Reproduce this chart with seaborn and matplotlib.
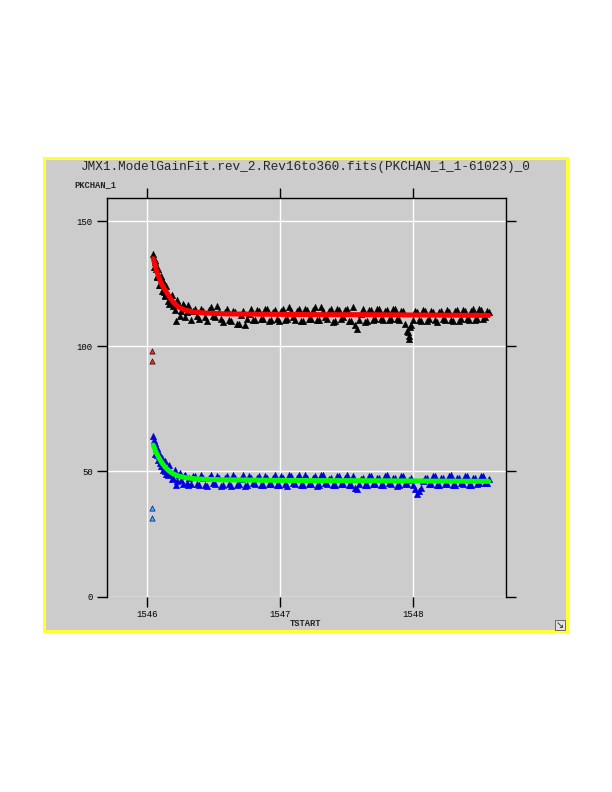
import matplotlib
matplotlib.use("Agg")
import matplotlib.pyplot as plt
from matplotlib.patches import Rectangle
import pandas as pd
import seaborn as sns

# ── Data ─────────────────────────────────────────────────────────────────────
TSTART = [1546.05, 1546.06, 1546.07, 1546.08, 1546.09, 1546.10, 1546.11, 1546.12, 1546.13, 1546.14,
          1546.15, 1546.16, 1546.18, 1546.20, 1546.22, 1546.24, 1546.26, 1546.28, 1546.30, 1546.32,
          1546.35, 1546.38, 1546.41, 1546.44, 1546.47, 1546.50, 1546.53, 1546.56, 1546.59, 1546.62,
          1546.65, 1546.68, 1546.71, 1546.74, 1546.77, 1546.80, 1546.83, 1546.86, 1546.89, 1546.92,
          1546.95, 1546.98, 1547.01, 1547.04, 1547.07, 1547.10, 1547.13, 1547.16, 1547.19, 1547.22,
          1547.25, 1547.28, 1547.31, 1547.34, 1547.37, 1547.40, 1547.43, 1547.46, 1547.49, 1547.52,
          1547.55, 1547.58, 1547.61, 1547.64, 1547.67, 1547.70, 1547.73, 1547.76, 1547.79, 1547.82,
          1547.85, 1547.88, 1547.91, 1547.94, 1547.97, 1548.00, 1548.03, 1548.06, 1548.09, 1548.12,
          1548.15, 1548.18, 1548.21, 1548.24, 1548.27, 1548.30, 1548.33, 1548.36, 1548.39, 1548.42,
          1548.45, 1548.48, 1548.51, 1548.54, 1548.57]

PK_UPPER = [137.0, 133.5, 131.0, 128.0, 127.5, 124.5, 125.5, 122.0, 121.5, 120.0,
            120.5, 118.0, 117.5, 116.0, 110.0, 116.5, 114.0, 116.0, 113.5, 114.5,
            114.0, 112.0, 115.0, 111.5, 114.5, 112.0, 116.0, 111.0, 113.5, 110.5,
            114.0, 109.0, 112.5, 108.5, 113.0, 110.5, 114.5, 111.0, 115.0, 110.0,
            113.5, 111.0, 114.0, 110.5, 115.5, 111.5, 114.0, 110.0, 115.0, 111.0,
            114.5, 110.5, 115.5, 111.5, 114.0, 109.5, 115.0, 111.0, 114.5, 110.0,
            115.5, 107.0, 113.0, 109.5, 114.5, 110.5, 115.0, 111.0, 114.0, 110.5,
            115.0, 111.0, 114.0, 109.0, 103.0, 110.5, 113.5, 110.0, 114.0, 111.0,
            113.5, 109.5, 114.0, 110.5, 113.5, 110.0, 114.5, 111.0, 114.0, 110.5,
            115.0, 111.0, 114.5, 111.5, 113.5]

PK_LOWER = [64.0, 61.5, 59.0, 56.5, 56.0, 53.5, 54.0, 52.0, 51.5, 50.0,
            50.5, 48.5, 49.0, 47.5, 44.5, 48.5, 46.5, 48.0, 45.5, 47.5,
            48.0, 45.0, 48.5, 44.5, 47.5, 45.5, 48.0, 44.0, 47.5, 45.0,
            48.5, 44.5, 47.0, 44.0, 48.0, 45.5, 47.5, 44.5, 48.0, 45.0,
            47.5, 44.5, 48.0, 45.0, 48.5, 45.5, 47.5, 44.5, 48.5, 45.0,
            47.5, 44.0, 48.5, 45.5, 47.0, 44.5, 48.0, 45.0, 47.5, 44.5,
            48.0, 43.0, 47.0, 44.5, 48.0, 45.0, 47.5, 44.5, 48.0, 45.5,
            47.5, 44.0, 48.0, 45.0, 46.5, 44.5, 41.0, 43.5, 47.5, 45.0,
            48.0, 44.5, 47.5, 45.0, 48.0, 44.5, 47.5, 45.5, 48.0, 44.5,
            47.5, 45.0, 48.0, 45.5, 47.0]

# second pass of revolutions, in between the first ones
TSTART_B = [1546.055, 1546.065, 1546.075, 1546.085, 1546.095, 1546.105, 1546.115, 1546.125, 1546.135, 1546.145,
            1546.170, 1546.190, 1546.210, 1546.230, 1546.250, 1546.270, 1546.290, 1546.310,
            1546.335, 1546.365, 1546.395, 1546.425, 1546.455, 1546.485, 1546.515, 1546.545, 1546.575, 1546.605,
            1546.635, 1546.665, 1546.695, 1546.725, 1546.755, 1546.785, 1546.815, 1546.845, 1546.875, 1546.905,
            1546.935, 1546.965, 1546.995, 1547.025, 1547.055, 1547.085, 1547.115, 1547.145, 1547.175, 1547.205,
            1547.235, 1547.265, 1547.295, 1547.325, 1547.355, 1547.385, 1547.415, 1547.445, 1547.475, 1547.505,
            1547.535, 1547.565, 1547.595, 1547.625, 1547.655, 1547.685, 1547.715, 1547.745, 1547.775, 1547.805,
            1547.835, 1547.865, 1547.895, 1547.925, 1547.955, 1547.985, 1548.015, 1548.045, 1548.075, 1548.105,
            1548.135, 1548.165, 1548.195, 1548.225, 1548.255, 1548.285, 1548.315, 1548.345, 1548.375, 1548.405,
            1548.435, 1548.465, 1548.495, 1548.525, 1548.555]

PK_UPPER_B = [131.5, 134.5, 127.5, 131.0, 124.5, 128.0, 122.0, 126.0, 120.5, 124.0,
              117.0, 120.5, 114.5, 118.5, 112.0, 117.0, 111.5, 116.5,
              110.5, 115.0, 111.0, 114.0, 110.0, 115.5, 111.5, 113.5, 109.5, 115.0,
              110.0, 113.5, 109.0, 114.0, 111.0, 115.0, 110.5, 114.0, 111.0, 115.0,
              110.5, 114.5, 110.0, 115.0, 111.0, 114.0, 110.5, 115.0, 110.0, 114.5,
              111.0, 115.5, 110.5, 114.0, 111.0, 115.0, 110.0, 114.5, 111.5, 115.0,
              110.0, 108.5, 110.5, 115.0, 110.0, 114.5, 111.0, 115.0, 110.5, 114.5,
              111.0, 115.0, 110.5, 114.0, 106.0, 108.5, 114.0, 110.5, 114.5, 110.0,
              114.0, 110.5, 113.5, 111.0, 114.5, 110.5, 114.0, 110.0, 114.5, 111.0,
              114.0, 110.5, 115.0, 111.0, 114.0]

PK_LOWER_B = [62.5, 57.0, 59.5, 54.5, 57.5, 52.0, 55.5, 50.5, 54.0, 49.0,
              52.5, 47.0, 50.5, 46.0, 49.5, 45.0, 48.5, 44.5,
              45.0, 48.0, 44.5, 47.5, 44.0, 48.5, 45.0, 47.5, 44.5, 48.0,
              44.0, 47.5, 45.0, 48.5, 44.5, 47.5, 45.0, 48.0, 44.5, 47.5,
              45.0, 48.5, 44.5, 47.5, 44.0, 48.0, 45.0, 48.5, 44.5, 47.5,
              45.0, 48.0, 44.5, 48.5, 45.0, 47.5, 44.5, 48.0, 45.0, 48.5,
              44.5, 43.5, 45.0, 47.5, 44.5, 48.0, 45.0, 47.5, 44.5, 48.5,
              45.0, 47.5, 44.5, 48.0, 45.0, 47.5, 43.0, 42.0, 46.0, 47.5,
              45.0, 48.0, 44.5, 47.5, 45.0, 48.5, 44.5, 47.5, 45.0, 48.0,
              44.5, 47.5, 45.5, 48.0, 45.5]

# extra points in the dip near 1547.97
DIP_T = [1547.965, 1547.975, 1547.97]
DIP_UPPER = [105.5, 107.5, 104.0]

# early outliers
OUT_T = [1546.04, 1546.04]
OUT_UPPER = [98.0, 94.0]
OUT_LOWER = [35.5, 31.5]

# model gain fits
FIT_T = [1546.05, 1546.07, 1546.09, 1546.11, 1546.14, 1546.17, 1546.20, 1546.24, 1546.29, 1546.35,
         1546.45, 1546.60, 1546.80, 1547.00, 1547.30, 1547.60, 1547.90, 1548.20, 1548.57]
FIT_UPPER = [135.0, 131.0, 127.8, 125.0, 122.4, 119.8, 117.6, 115.6, 114.4, 113.7,
             113.2, 112.9, 112.8, 112.7, 112.6, 112.6, 112.5, 112.4, 112.3]
FIT_LOWER = [60.5, 57.8, 55.6, 53.8, 51.6, 50.1, 49.0, 48.1, 47.5, 47.1,
             46.8, 46.6, 46.5, 46.4, 46.3, 46.3, 46.2, 46.1, 46.0]

XTICKS = [1546, 1547, 1548]
YTICKS = [0, 50, 100, 150]

TITLE = "JMX1.ModelGainFit.rev_2.Rev16to360.fits(PKCHAN_1_1-61023)_0"

df = pd.concat([
    pd.DataFrame({"TSTART": TSTART, "upper": PK_UPPER, "lower": PK_LOWER}),
    pd.DataFrame({"TSTART": TSTART_B, "upper": PK_UPPER_B, "lower": PK_LOWER_B}),
], ignore_index=True)
dip = pd.DataFrame({"TSTART": DIP_T, "upper": DIP_UPPER})
out = pd.DataFrame({"TSTART": OUT_T, "upper": OUT_UPPER, "lower": OUT_LOWER})
fit = pd.DataFrame({"TSTART": FIT_T, "upper": FIT_UPPER, "lower": FIT_LOWER})

# ── Style ────────────────────────────────────────────────────────────────────
GRAY = "#cccccc"
sns.set_style("whitegrid", {"axes.facecolor": GRAY, "grid.color": "white",
                            "axes.edgecolor": "black"})
plt.rcParams["font.family"] = ["Liberation Mono", "DejaVu Sans Mono"]

fig = plt.figure(figsize=(6.12, 7.92), dpi=100)
fig.patch.set_facecolor("white")

# outer gray panel with yellow frame (behind the axes)
panel = Rectangle((44 / 612, 1 - 631 / 792), 523 / 612, 473 / 792,
                  transform=fig.transFigure, facecolor=GRAY,
                  edgecolor="#ffff33", linewidth=2.2, zorder=-5)
fig.add_artist(panel)

ax = fig.add_axes([106.7 / 612, 1 - 596.5 / 792, (506 - 106.7) / 612, (596.5 - 198) / 792])
ax.set_zorder(1)

# ── Marks ────────────────────────────────────────────────────────────────────
tri = dict(marker="^", s=22, linewidth=0.3, ax=ax, zorder=3)
sns.scatterplot(data=df, x="TSTART", y="upper", color="black", edgecolor="black", **tri)
sns.scatterplot(data=dip, x="TSTART", y="upper", color="black", edgecolor="black", **tri)
sns.scatterplot(data=df, x="TSTART", y="lower", color="#0000dd", edgecolor="#0000dd", **tri)
sns.scatterplot(data=out, x="TSTART", y="upper", marker="^", color="#e03030", s=14,
                edgecolor="#400000", linewidth=0.5, ax=ax, zorder=3)
sns.scatterplot(data=out, x="TSTART", y="lower", marker="^", color="#30d0a0", s=14,
                edgecolor="#0000cc", linewidth=0.5, ax=ax, zorder=3)
sns.lineplot(data=fit, x="TSTART", y="upper", color="#ff0000", linewidth=3.6, ax=ax, zorder=4)
sns.lineplot(data=fit, x="TSTART", y="lower", color="#00ff00", linewidth=3.6, ax=ax, zorder=4)

# ── Axes ─────────────────────────────────────────────────────────────────────
ax.set_xlim(1545.70, 1548.70)
ax.set_ylim(0, 159.2)
ax.set_xticks(XTICKS)
ax.set_yticks(YTICKS)
ax.set_xticklabels([str(t) for t in XTICKS])
ax.set_yticklabels([str(t) for t in YTICKS])
ax.grid(True, color="white", linewidth=1.0)
ax.set_axisbelow(True)
ax.set_xlabel("")
ax.set_ylabel("")
for side in ["left", "top", "right"]:
    ax.spines[side].set_visible(True)
    ax.spines[side].set_color("black")
    ax.spines[side].set_linewidth(1.0)
ax.spines["bottom"].set_visible(False)
ax.tick_params(axis="both", which="major", direction="out", length=7, width=1,
               color="black", top=True, right=True, bottom=True, left=True,
               labeltop=False, labelright=False, labelsize=6.5, pad=3,
               labelcolor="black")

# ── Text ─────────────────────────────────────────────────────────────────────
fig.text(306 / 612, 1 - 167 / 792, TITLE, ha="center", va="center", fontsize=9.2)
fig.text(74 / 612, 1 - 185 / 792, "PKCHAN_1", ha="left", va="center",
         fontsize=6.3, fontweight="bold")
fig.text(306 / 612, 1 - 623 / 792, "TSTART", ha="center", va="center",
         fontsize=6.3, fontweight="bold")
fig.text(560 / 612, 1 - 625 / 792, "\u2198", ha="center", va="center", fontsize=7,
         family="DejaVu Sans",
         bbox=dict(boxstyle="square,pad=0.05", facecolor="#e0e0e0", edgecolor="#555555",
                   linewidth=0.6))

fig.savefig("out.png", dpi=100)
